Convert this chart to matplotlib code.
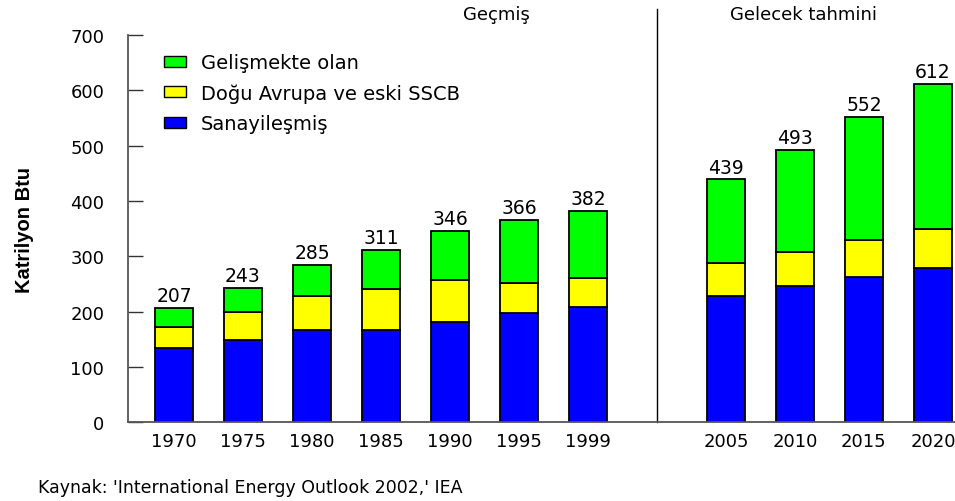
import numpy as np
import matplotlib.pyplot as plt
from matplotlib.patches import Patch

plt.rcParams['font.family'] = ['DejaVu Sans']

years = ["1970", "1975", "1980", "1985", "1990", "1995", "1999",
         "2005", "2010", "2015", "2020"]
positions = [0, 1, 2, 3, 4, 5, 6, 8, 9, 10, 11]
sanayi = [135, 149, 167, 166, 182, 198, 209, 229, 247, 262, 278]
dogu = [38, 51, 62, 74, 76, 53, 51, 58, 60, 67, 71]
toplam = [207, 243, 285, 311, 346, 366, 382, 439, 493, 552, 612]
gelismekte = [t - s - d for t, s, d in zip(toplam, sanayi, dogu)]

c_blue = "#0000ff"
c_yellow = "#ffff00"
c_green = "#00ff00"

fig = plt.figure(figsize=(9.55, 5.02), dpi=100)
ax = fig.add_axes([0.134, 0.157, 0.866, 0.771])

x = np.array(positions)
w = 0.54
ax.bar(x, sanayi, w, color=c_blue, edgecolor="black", linewidth=1.3)
ax.bar(x, dogu, w, bottom=sanayi, color=c_yellow, edgecolor="black", linewidth=1.3)
bot2 = np.array(sanayi) + np.array(dogu)
ax.bar(x, gelismekte, w, bottom=bot2, color=c_green, edgecolor="black", linewidth=1.3)

for xi, t in zip(x, toplam):
    ax.text(xi, t + 5, str(t), ha="center", va="bottom", fontsize=13.5)

ax.set_xlim(-0.667, 11.32)
ax.set_ylim(0, 700)
ax.set_yticks(range(0, 701, 100))
ax.set_xticks(x)
ax.set_xticklabels(years, fontsize=13)
ax.tick_params(axis="x", length=0, pad=7)
ax.tick_params(axis="y", direction="in", length=11, width=1, labelsize=13,
               pad=17, color="#333333")
for s in ["top", "right"]:
    ax.spines[s].set_visible(False)
for s in ["left", "bottom"]:
    ax.spines[s].set_color("#555555")
    ax.spines[s].set_linewidth(1.3)

# divider between past and forecast
ax.plot([7, 7], [0, 747], color="black", linewidth=1, clip_on=False)
ax.text(4.68, 738, "Geçmiş", ha="center", va="center", fontsize=13)
ax.text(9.12, 738, "Gelecek tahmini", ha="center", va="center", fontsize=13)

ax.set_ylabel("Katrilyon Btu", fontsize=14.5, fontweight="bold",
              family=["Liberation Sans Narrow", "Liberation Sans"], labelpad=26)

handles = [Patch(facecolor=c_green, edgecolor="black", label="Gelişmekte olan"),
           Patch(facecolor=c_yellow, edgecolor="black", label="Doğu Avrupa ve eski SSCB"),
           Patch(facecolor=c_blue, edgecolor="black", label="Sanayileşmiş")]
fig.legend(handles=handles, loc="upper left",
           bbox_to_anchor=(164 / 955, 1 - 54 / 502),
           frameon=False, fontsize=14, handlelength=1.15, handleheight=0.5,
           handletextpad=0.75, labelspacing=0.58, borderpad=0,
           borderaxespad=0)

fig.text(38 / 955, 1 - 488 / 502, "Kaynak: 'International Energy Outlook 2002,' IEA",
         fontsize=12.5, ha="left", va="center")

fig.savefig("out.png", dpi=100)
